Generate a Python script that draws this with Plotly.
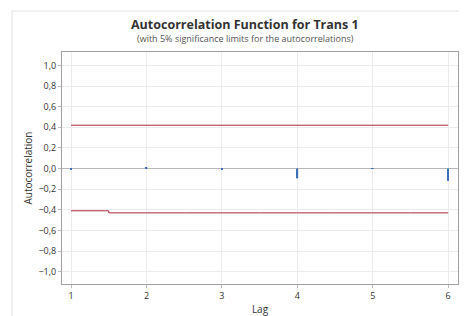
import plotly.graph_objects as go

lags = [1, 2, 3, 4, 5, 6]
acf = [-0.01, 0.012, -0.006, -0.095, 0.005, -0.12]
upper_limit = [0.42, 0.42, 0.42, 0.42, 0.42, 0.42]
lower_limit = [-0.41, -0.43, -0.43, -0.43, -0.43, -0.43]
y_ticks = [-1.0, -0.8, -0.6, -0.4, -0.2, 0.0, 0.2, 0.4, 0.6, 0.8, 1.0]

fig = go.Figure()
fig.add_trace(go.Scatter(x=lags, y=upper_limit, mode="lines",
                         line=dict(color="#ad2a3a", width=1), hoverinfo="skip"))
fig.add_trace(go.Scatter(x=lags, y=lower_limit, mode="lines",
                         line=dict(color="#ad2a3a", width=1, shape="hvh"), hoverinfo="skip"))
fig.add_trace(go.Bar(x=lags, y=acf, width=0.022, marker=dict(color="#3d6fb6", line=dict(width=0))))

# the page places the figure 8px from the window's top-left corner
OFF = 8
W, H = 467 - OFF, 316 - OFF
L, R, T, B = 62 - OFF, 9, 52 - OFF, 32
pw, ph = W - L - R, H - T - B

def px(x):
    return (x - OFF - L) / pw

def py(y):
    return (H - B - (y - OFF)) / ph

font = "Open Sans, Noto Sans, sans-serif"
fig.update_layout(
    width=W, height=H,
    margin=dict(l=L, r=R, t=T, b=B, autoexpand=False),
    paper_bgcolor="white", plot_bgcolor="white",
    showlegend=False,
    separators=", ",
    font=dict(family=font, size=9, color="#333333"),
    xaxis=dict(range=[0.88, 6.13], tickvals=lags, showgrid=True, gridcolor="#ececec",
               gridwidth=1, showline=True, linecolor="#a0a0a0", linewidth=1, mirror=True,
               zeroline=False, ticks="outside", ticklen=3, tickcolor="#bbbbbb",
               automargin=False,
               tickfont=dict(size=9, color="#333333"),
               title=dict(text="Lag", font=dict(size=10, color="#333333"), standoff=5)),
    yaxis=dict(range=[-1.12, 1.13], tickvals=y_ticks, tickformat=".1f", showgrid=True,
               gridcolor="#ececec", gridwidth=1, showline=True, linecolor="#a0a0a0",
               linewidth=1, mirror=True, zeroline=True, zerolinecolor="#b8b8b8",
               zerolinewidth=1, ticks="outside", ticklen=3, tickcolor="#bbbbbb",
               automargin=False,
               tickfont=dict(size=9, color="#333333"),
               title=dict(text="Autocorrelation", font=dict(size=10, color="#333333"), standoff=3)),
    annotations=[
        dict(text="<b>Autocorrelation Function for Trans 1</b>", xref="paper", yref="paper",
             x=px(245), y=py(25), xanchor="center", yanchor="middle", showarrow=False,
             font=dict(size=12.5, color="#333333", family=font)),
        dict(text="(with 5% significance limits for the autocorrelations)", xref="paper", yref="paper",
             x=px(245), y=py(38), xanchor="center", yanchor="middle", showarrow=False,
             font=dict(size=9, color="#555555", family=font)),
    ],
    shapes=[
        dict(type="line", xref="paper", yref="paper", x0=px(12), x1=px(467), y0=py(11), y1=py(11),
             line=dict(color="#e4e4e4", width=1)),
        dict(type="line", xref="paper", yref="paper", x0=px(12), x1=px(12), y0=py(11), y1=py(316),
             line=dict(color="#e4e4e4", width=1)),
    ],
)
fig.write_html("out.html")
